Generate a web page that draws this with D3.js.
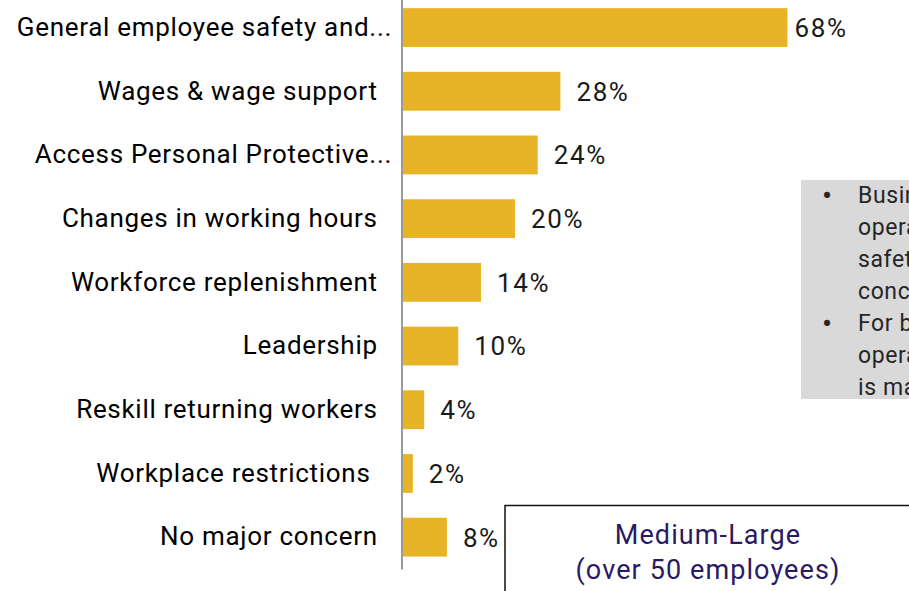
<!DOCTYPE html>
<html>
<head>
<meta charset="utf-8">
<script src="https://cdn.jsdelivr.net/npm/d3@7"></script>
<style>
  html, body { margin: 0; padding: 0; background: #fff; }
  svg { display: block; }
  text { font-family: Roboto, "Noto Sans", sans-serif; }
</style>
</head>
<body>
<svg id="chart" width="909" height="591"></svg>
<script>
// ---- data ----
const categories = [
  "General employee safety and...",
  "Wages & wage support\u00a0\u00a0",
  "Access Personal Protective...",
  "Changes in working hours\u00a0\u00a0",
  "Workforce replenishment\u00a0\u00a0",
  "Leadership\u00a0\u00a0",
  "Reskill returning workers\u00a0\u00a0",
  "Workplace restrictions\u00a0\u00a0\u00a0",
  "No major concern\u00a0\u00a0"
];
const values = [68, 28, 24, 20, 14, 10, 4, 2, 8];
const noteLines = [
  ["Businesses that", "operating report", "safety as top", "concern"],
  ["For businesses", "operating, safety", "is major"]
];
const boxTitle = ["Medium-Large", "(over 50 employees)"];

// ---- chart ----
const svg = d3.select("#chart");
const axisX = 401.5;

const x = d3.scaleLinear().domain([0, 100]).range([axisX, axisX + 567.6]);
const y = d3.scaleBand().domain(categories).range([-4.3, 569]).paddingInner(0.39).paddingOuter(0.195);

// bars
svg.append("g").selectAll("rect")
  .data(values)
  .join("rect")
  .attr("x", axisX)
  .attr("y", (d, i) => y(categories[i]))
  .attr("width", d => x(d) - x(0))
  .attr("height", y.bandwidth())
  .attr("fill", "#E8B427");

// value labels
svg.append("g").selectAll("text")
  .data(values)
  .join("text")
  .attr("x", d => x(d) + (d > 50 ? 7 : 16))
  .attr("y", (d, i) => y(categories[i]) + y.bandwidth() / 2)
  .attr("dy", "0.36em")
  .attr("font-size", 26)
  .attr("letter-spacing", "1.6px")
  .attr("fill", "#1a1a1a")
  .text(d => d + "%");

// axis
const axis = svg.append("g")
  .attr("transform", `translate(${axisX},0)`)
  .call(d3.axisLeft(y).tickSize(0).tickSizeOuter(0).tickPadding(9.5));
axis.select(".domain").attr("stroke", "#9a9a9a").attr("stroke-width", 2);
axis.selectAll("text")
  .attr("font-size", 26)
  .attr("letter-spacing", "0.7px")
  .attr("fill", "#000")
  .style("white-space", "pre")
  .style("font-family", "Roboto, 'Noto Sans', sans-serif");

// note box (gray)
const note = svg.append("g");
note.append("rect")
  .attr("x", 801).attr("y", 180)
  .attr("width", 140).attr("height", 219)
  .attr("fill", "#D9D9D9");
let ly = 195;
noteLines.forEach(group => {
  note.append("text")
    .attr("x", 822).attr("y", ly).attr("dy", "0.35em")
    .attr("font-size", 30).attr("fill", "#262626").text("\u2022");
  group.forEach(line => {
    note.append("text")
      .attr("x", 858).attr("y", ly).attr("dy", "0.35em")
      .attr("font-size", 23).attr("letter-spacing", "0.6px")
      .attr("fill", "#262626").text(line);
    ly += 32;
  });
});

// title box
const tb = svg.append("g");
tb.append("rect")
  .attr("x", 505).attr("y", 505.5)
  .attr("width", 430).attr("height", 120)
  .attr("fill", "#fff").attr("stroke", "#111").attr("stroke-width", 1.5);
boxTitle.forEach((t, i) => {
  tb.append("text")
    .attr("x", 708).attr("y", 544 + i * 35)
    .attr("text-anchor", "middle")
    .attr("font-size", 27)
    .attr("letter-spacing", "1.1px")
    .attr("fill", "#2A1A64")
    .text(t);
});
</script>
</body>
</html>
